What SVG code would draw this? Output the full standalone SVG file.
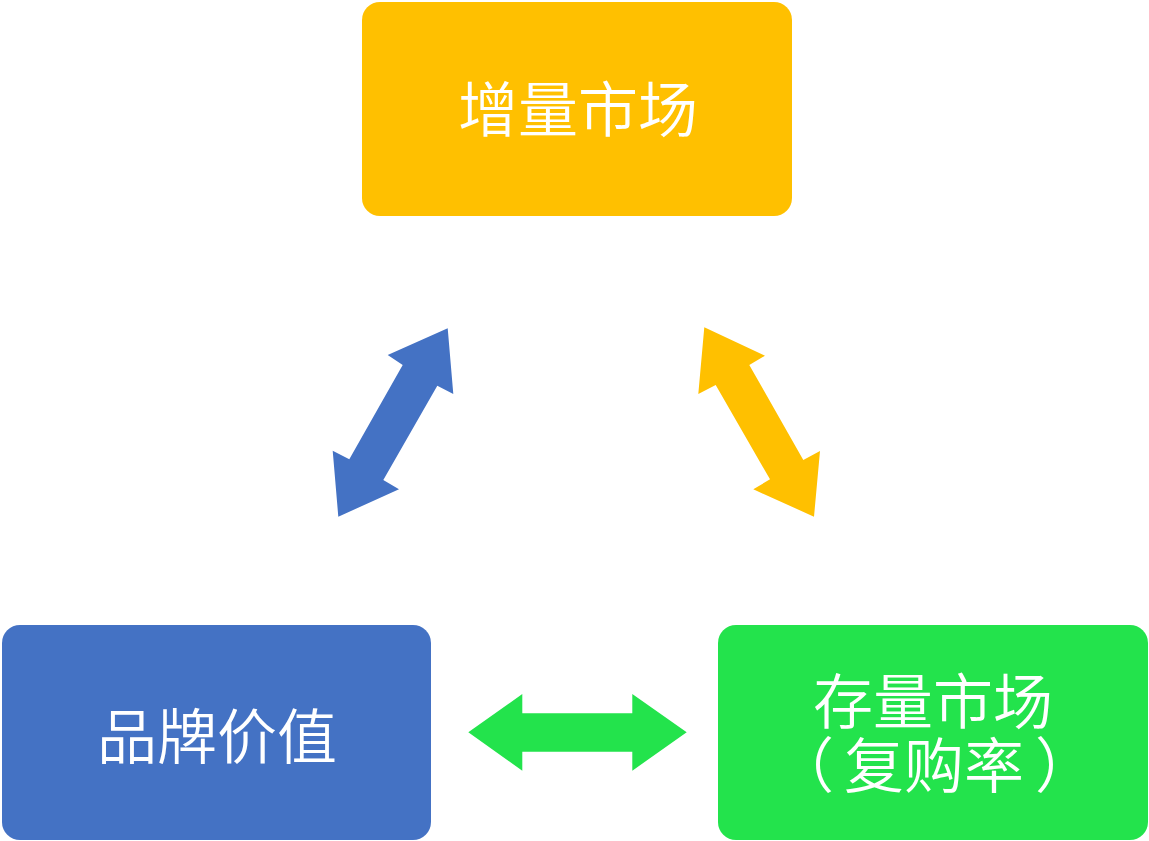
<svg xmlns="http://www.w3.org/2000/svg" width="1149" height="841" viewBox="0 0 1149 841">
<style>
.t{font-family:"Noto Sans CJK SC","Noto Sans",sans-serif;font-size:60px;font-weight:350;fill:#fff;text-anchor:middle}
.s{text-anchor:start}
</style>
<rect width="1149" height="841" fill="#fff"/>
<g id="connectors">
<polygon fill="#4472C4" points="447.7,328.3 453.3,394 437.3,385.7 383.3,480 399,489.3 338.3,516.7 332.7,450.7 349.3,459.3 402.7,365 387.7,355"/>
<polygon fill="#FFC000" points="704.3,327.3 765,355.7 749.3,365 803.3,460 820,451 814,516.7 753.3,489.3 770,479.3 715.7,385 698.3,394"/>
<polygon fill="#23E34C" points="468.3,732.3 522.3,694 522.3,713.3 632.3,713.3 632.3,694 686.7,732.3 632.3,770.7 632.3,751.7 522.3,751.7 522.3,770.7"/>
</g>
<g id="n1">
<rect x="362" y="2" width="430" height="214" rx="18" fill="#FFC000"/>
<text class="t" x="578" y="132">增量市场</text>
</g>
<g id="n2">
<rect x="2" y="625" width="429" height="215" rx="18" fill="#4472C4"/>
<text class="t" x="217" y="759">品牌价值</text>
</g>
<g id="n3">
<rect x="718" y="625" width="430" height="215" rx="18" fill="#23E34C"/>
<text class="t" x="933" y="724">存量市场</text>
<text class="t" x="934" y="788"><tspan class="s" x="774">（</tspan><tspan x="934">复购率</tspan><tspan class="s" x="1035">）</tspan></text>
</g>
</svg>
